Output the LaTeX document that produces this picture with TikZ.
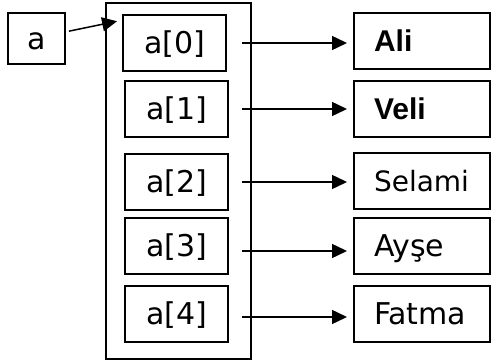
\documentclass[tikz,border=0pt]{standalone}
\usepackage{fontspec}
\setmainfont{DejaVu Sans}
\newfontfamily\arialfont{Liberation Sans}
\usetikzlibrary{positioning, arrows.meta}

\begin{document}
\begin{tikzpicture}[
        x=1pt, y=1pt,
        node distance=10pt,
        cellbox/.style={rectangle, draw, line width=1.8pt, outer sep=0pt, minimum width=103pt, minimum height=56pt, inner sep=0pt, text height=28pt, text depth=6pt, font=\fontsize{30}{34}\selectfont},
        valbox/.style={rectangle, draw, line width=1.8pt, outer sep=0pt, text width=96pt, inner xsep=20pt, inner ysep=0pt, minimum height=56pt, text height=28pt, text depth=6pt, align=left, font=\fontsize{30}{34}\selectfont},
        ptr/.style={line width=1.5pt, -{Triangle[length=15pt, width=14pt]}, shorten <=14pt, shorten >=7pt}
    ]
        \useasboundingbox (0,0) rectangle (491,362);

        % Array frame
        \node[rectangle, draw, line width=1.8pt, outer sep=0pt, inner sep=0pt, minimum width=145pt, minimum height=356pt] (arr) at (178.5,181) {};

        % Pointer variable
        \node[cellbox, minimum width=57pt, minimum height=51pt] (a) at (36.5,323.5) {a};

        % Array cells
        \node[cellbox] (a0) at (174.5,319) {a[0]};
        \node[cellbox, below=10pt of a0, xshift=2pt] (a1) {a[1]};
        \node[cellbox, below=17pt of a1] (a2) {a[2]};
        \node[cellbox, below=8pt of a2] (a3) {a[3]};
        \node[cellbox, below=12pt of a3] (a4) {a[4]};

        % Strings
        \node[valbox] (ali) at (422,321) {\arialfont\bfseries Ali};
        \node[valbox, below=12pt of ali] (veli) {\arialfont\bfseries Veli};
        \node[valbox, below=16pt of veli, font=\fontsize{28}{34}\selectfont] (selami) {Selami};
        \node[valbox, below=9pt of selami] (ayse) {Ayşe};
        \node[valbox, below=12pt of ayse] (fatma) {Fatma};

        % Arrows
        \draw[ptr, shorten <=4pt, shorten >=6pt] ([yshift=6.5pt]a.east) -- ([yshift=-5pt]a0.north west);
        \draw[ptr, shorten <=16pt] (a0.east) -- (a0.east -| ali.west);
        \draw[ptr] (a1.east) -- (a1.east -| veli.west);
        \draw[ptr] (a2.east) -- (a2.east -| selami.west);
        \draw[ptr] ([yshift=-5pt]a3.east) -- ([yshift=-5pt]a3.east -| ayse.west);
        \draw[ptr] ([yshift=-3pt]a4.east) -- ([yshift=-3pt]a4.east -| fatma.west);
    \end{tikzpicture}
\end{document}
